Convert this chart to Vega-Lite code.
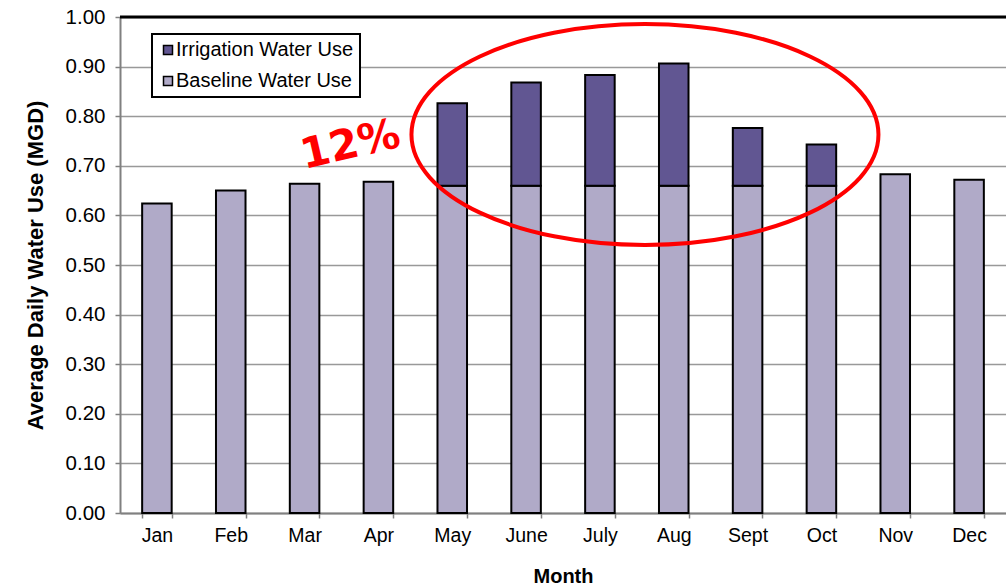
{
  "$schema": "https://vega.github.io/schema/vega-lite/v6.json",
  "autosize": {"type": "none"},
  "width": 886,
  "height": 496,
  "padding": {"left": 120, "top": 17, "right": 0, "bottom": 74},
  "background": "white",
  "config": {
    "view": {"stroke": null},
    "font": "Liberation Sans",
    "legend": {"strokeWidth": 2},
    "axis": {
      "domainColor": "#808080",
      "domainWidth": 2,
      "tickColor": "#808080",
      "tickWidth": 1.5,
      "tickSize": 5,
      "labelFont": "Liberation Sans",
      "labelFontSize": 20,
      "labelColor": "black",
      "titleFont": "Liberation Sans",
      "titleFontSize": 20,
      "titleFontWeight": "bold",
      "titleColor": "black",
      "gridColor": "#999999",
      "gridWidth": 1.5
    }
  },
  "data": {
    "values": [
      {"month": "Jan", "series": "Baseline Water Use", "value": 0.624},
      {"month": "Feb", "series": "Baseline Water Use", "value": 0.650},
      {"month": "Mar", "series": "Baseline Water Use", "value": 0.664},
      {"month": "Apr", "series": "Baseline Water Use", "value": 0.668},
      {"month": "May", "series": "Baseline Water Use", "value": 0.660},
      {"month": "May", "series": "Irrigation Water Use", "value": 0.166},
      {"month": "June", "series": "Baseline Water Use", "value": 0.660},
      {"month": "June", "series": "Irrigation Water Use", "value": 0.208},
      {"month": "July", "series": "Baseline Water Use", "value": 0.660},
      {"month": "July", "series": "Irrigation Water Use", "value": 0.223},
      {"month": "Aug", "series": "Baseline Water Use", "value": 0.660},
      {"month": "Aug", "series": "Irrigation Water Use", "value": 0.246},
      {"month": "Sept", "series": "Baseline Water Use", "value": 0.660},
      {"month": "Sept", "series": "Irrigation Water Use", "value": 0.116},
      {"month": "Oct", "series": "Baseline Water Use", "value": 0.660},
      {"month": "Oct", "series": "Irrigation Water Use", "value": 0.083},
      {"month": "Nov", "series": "Baseline Water Use", "value": 0.683},
      {"month": "Dec", "series": "Baseline Water Use", "value": 0.672}
    ]
  },
  "layer": [
    {
      "mark": {"type": "bar", "stroke": "black", "strokeWidth": 2},
      "encoding": {
        "x": {
          "field": "month",
          "type": "nominal",
          "sort": ["Jan", "Feb", "Mar", "Apr", "May", "June", "July", "Aug", "Sept", "Oct", "Nov", "Dec"],
          "scale": {"paddingInner": 0.6, "paddingOuter": 0.3},
          "axis": {
            "title": "Month",
            "labelAngle": 0,
            "labelFontSize": 19.5,
            "labelPadding": 8,
            "tickBand": "extent",
            "titlePadding": 22,
            "grid": false
          }
        },
        "y": {
          "field": "value",
          "type": "quantitative",
          "stack": "zero",
          "scale": {"domain": [0, 1], "nice": false},
          "axis": {
            "title": "Average Daily Water Use (MGD)",
            "titleFontSize": 22,
            "format": ".2f",
            "values": [0, 0.1, 0.2, 0.3, 0.4, 0.5, 0.6, 0.7, 0.8, 0.9, 1.0],
            "labelPadding": 10,
            "labelFontSize": 20.5,
            "titlePadding": 18,
            "grid": true
          }
        },
        "color": {
          "field": "series",
          "type": "nominal",
          "scale": {
            "domain": ["Irrigation Water Use", "Baseline Water Use"],
            "range": ["#615692", "#B0AAC8"]
          },
          "legend": {
            "title": null,
            "orient": "none",
            "legendX": 32,
            "legendY": 17,
            "fillColor": "white",
            "strokeColor": "black",
            "padding": 6,
            "rowPadding": 11,
            "symbolType": "square",
            "symbolSize": 81,
            "symbolStrokeColor": "black",
            "symbolStrokeWidth": 1.5,
            "symbolOpacity": 1,
            "labelFont": "Liberation Sans",
            "labelFontSize": 20,
            "labelColor": "black",
            "labelOffset": -2,
            "labelLimit": 400
          }
        },
        "order": {"field": "series", "sort": "ascending"}
      }
    },
    {
      "data": {"values": [{}]},
      "mark": {"type": "rule", "color": "black", "strokeWidth": 3},
      "encoding": {"y": {"datum": 1, "type": "quantitative"}}
    },
    {
      "data": {"values": [{}]},
      "mark": {
        "type": "point",
        "shape": "M -1 0 A 1 0.473 0 1 1 1 0 A 1 0.473 0 1 1 -1 0 Z",
        "filled": false,
        "stroke": "#FF0000",
        "strokeWidth": 4,
        "opacity": 1,
        "size": 218089
      },
      "encoding": {
        "x": {"datum": 7.11, "type": "quantitative", "scale": {"domain": [0, 12], "nice": false, "zero": false}, "axis": null},
        "y": {"datum": 0.763, "type": "quantitative"}
      }
    },
    {
      "data": {"values": [{"label": "12%"}]},
      "mark": {
        "type": "text",
        "font": "DejaVu Sans",
        "fontWeight": "bold",
        "fontSize": 42,
        "color": "#FF0000",
        "angle": -13,
        "align": "center",
        "baseline": "middle"
      },
      "encoding": {
        "text": {"field": "label"},
        "x": {"datum": 3.12, "type": "quantitative", "scale": {"domain": [0, 12], "nice": false, "zero": false}, "axis": null},
        "y": {"datum": 0.742, "type": "quantitative"}
      }
    }
  ],
  "resolve": {"scale": {"x": "independent"}}
}
